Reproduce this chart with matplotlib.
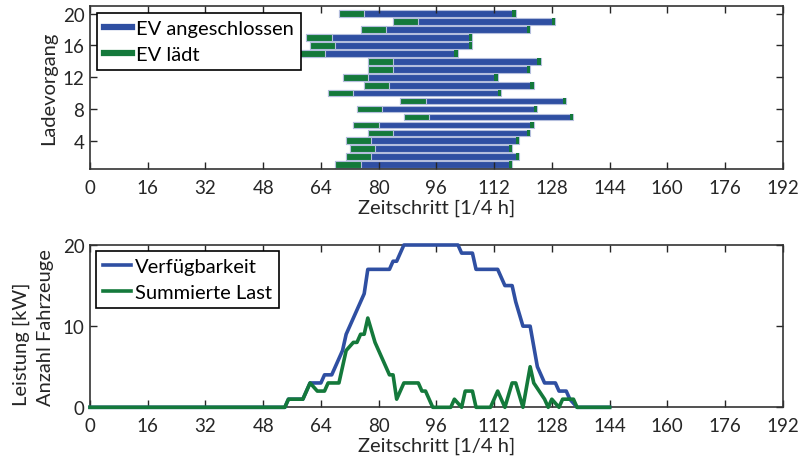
import matplotlib
matplotlib.use("Agg")
import matplotlib.pyplot as plt
from matplotlib.lines import Line2D

plt.rcParams['font.family'] = ['Lato', 'DejaVu Sans']
plt.rcParams['font.size'] = 13

# --- data: charging sessions (Ladevorgang 1..20) ---
session = list(range(1, 21))
arrive = [68, 71, 72, 71, 77, 73, 87, 74, 86, 66, 76, 70, 77, 77, 58, 61, 60, 75, 84, 69]
depart = [117, 119, 117, 119, 122, 123, 134, 124, 132, 114, 123, 113, 122, 125, 102, 106, 106, 122, 129, 118]
charge_len = [7, 7, 7, 7, 7, 7, 7, 7, 7, 7, 7, 7, 7, 7, 7, 7, 7, 7, 7, 7]
tail_len = [1] * 20

# --- data: availability and summed load ---
avail_t = [0, 54, 55, 59, 61, 64, 65, 67, 70, 71, 76, 77, 83, 84, 85, 87, 102, 103, 106, 107,
           113, 115, 117, 118, 120, 122, 124, 126, 129, 130, 132, 133, 135, 144]
avail_v = [0, 0, 1, 1, 3, 3, 4, 4, 7, 9, 14, 17, 17, 18, 18, 20, 20, 19, 19, 17,
           17, 15, 15, 13, 10, 10, 5, 3, 3, 2, 2, 1, 0, 0]
load_t = [0, 54, 55, 59, 61, 63, 65, 66, 69, 71, 73, 74, 75, 76, 77, 79, 83, 84, 85, 87,
          91, 92, 93, 95, 100, 101, 103, 104, 106, 107, 111, 113, 115, 117, 118, 120, 122,
          123, 126, 127, 128, 130, 131, 134, 135, 144]
load_v = [0, 0, 1, 1, 3, 2, 2, 3, 3, 7, 8, 8, 9, 9, 11, 8, 4, 4, 1, 3,
          3, 2, 2, 0, 0, 1, 0, 2, 2, 0, 0, 2, 0, 3, 3, 0, 5,
          3, 1, 0, 1, 0, 1, 1, 0, 0]

xticks = list(range(0, 193, 16))
blue = '#2f4fa2'
green = '#14793b'
edge = '#b4bedd'
txt = '#262626'
lab = 14.5

fig = plt.figure(figsize=(8.05, 4.6), dpi=100)
ax1 = fig.add_axes([90 / 805, 1 - 170 / 460, 692.7 / 805, 163.3 / 460])
ax2 = fig.add_axes([90 / 805, 1 - 408.3 / 460, 692.7 / 805, 162.3 / 460])

# top: sessions
width = [d - a for a, d in zip(arrive, depart)]
ax1.barh(session, width, left=arrive, height=0.84, color=blue, edgecolor=edge, linewidth=0.8)
ax1.barh(session, charge_len, left=arrive, height=0.84, color=green, edgecolor=edge, linewidth=0.8)
tail_left = [d - t for d, t in zip(depart, tail_len)]
ax1.barh(session, tail_len, left=tail_left, height=0.84, color=green, edgecolor='none', linewidth=0)

ax1.set_xlim(0, 192)
ax1.set_ylim(0.45, 21)
ax1.set_yticks([4, 8, 12, 16, 20])
ax1.set_xlabel("Zeitschritt [1/4 h]", labelpad=2, fontsize=lab)
ax1.set_ylabel("Ladevorgang", labelpad=4, fontsize=lab)
h1 = [Line2D([], [], color=blue, lw=4.5), Line2D([], [], color=green, lw=4.5)]
leg1 = ax1.legend(h1, ["EV angeschlossen", "EV lädt"], loc='upper left', fancybox=False,
                  edgecolor='black', framealpha=1, handlelength=1.4, handletextpad=0.2,
                  borderpad=0.35, labelspacing=0.45, borderaxespad=0.35, fontsize=lab)
leg1.get_frame().set_linewidth(1.2)

# bottom: availability / load
ax2.plot(avail_t, avail_v, color=blue, lw=2.6, clip_on=False, zorder=3)
ax2.plot(load_t, load_v, color=green, lw=2.6, clip_on=False, zorder=4)
ax2.set_xlim(0, 192)
ax2.set_ylim(0, 20)
ax2.set_yticks([0, 10, 20])
ax2.set_xlabel("Zeitschritt [1/4 h]", labelpad=2, fontsize=lab)
ax2.set_ylabel("Leistung [kW]\nAnzahl Fahrzeuge", labelpad=6, fontsize=lab,
               linespacing=1.55, multialignment='left')
h2 = [Line2D([], [], color=blue, lw=2.6), Line2D([], [], color=green, lw=2.6)]
leg2 = ax2.legend(h2, ["Verfügbarkeit", "Summierte Last"], loc='upper left', fancybox=False,
                  edgecolor='black', framealpha=1, handlelength=1.4, handletextpad=0.2,
                  borderpad=0.35, labelspacing=0.45, borderaxespad=0.3, fontsize=lab)
leg2.get_frame().set_linewidth(1.2)

for ax in (ax1, ax2):
    ax.set_xticks(xticks)
    ax.tick_params(direction='in', top=True, right=True, length=5, width=1,
                   colors=txt, labelsize=13.5, pad=4)
    ax.tick_params(axis='x', pad=7)
    for s in ax.spines.values():
        s.set_linewidth(1.2)
        s.set_color('#333333')
    ax.xaxis.label.set_color(txt)
    ax.yaxis.label.set_color(txt)

fig.savefig("out.png", dpi=100)
